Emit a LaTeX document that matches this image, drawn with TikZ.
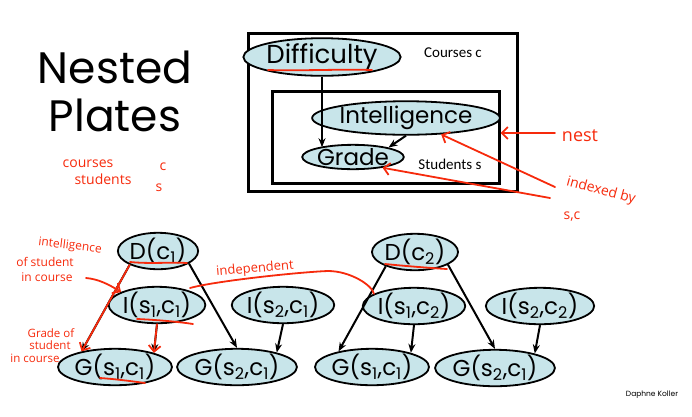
\documentclass[tikz,border=0pt]{standalone}
\usepackage{fontspec}
\setmainfont{Poppins}
\newfontfamily\calib{Carlito}
\newfontfamily\hand{Open Sans}
\usetikzlibrary{arrows.meta,shapes.geometric}
\definecolor{varfill}{RGB}{200,229,234}
\definecolor{ink}{RGB}{246,42,12}
\newcommand\lo[1]{\textsubscript{#1}}
\tikzset{
  var/.style={ellipse, draw=black, line width=1.8pt, fill=varfill, inner sep=0pt,
    minimum width=92pt, minimum height=31pt, font=\fontsize{23}{23}\selectfont},
  dvar/.style={var, minimum width=77pt, minimum height=26pt},
  edge/.style={line width=2pt, -{Stealth[length=9pt,width=7pt]}},
  plate/.style={draw=black, line width=3pt, inner sep=0pt},
  platelabel/.style={font=\calib\fontsize{15}{15}\selectfont},
  note/.style={text=ink, inner sep=0pt, font=\hand\fontsize{12}{12}\selectfont},
  redline/.style={draw=ink, line width=1.8pt, line cap=round, line join=round},
  redarrow/.style={redline, -{Straight Barb[length=6pt,width=12pt]}}
}
\begin{document}
\begin{tikzpicture}[x=1pt,y=-1pt]
\useasboundingbox (0,0) rectangle (692,416);

% title
\node[font=\fontsize{44}{44}\selectfont, anchor=base] (title1) at (115,83) {Nested};
\node[font=\fontsize{44}{44}\selectfont, anchor=base] (title2) at (115,131) {Plates};
\node[note, font=\hand\fontsize{14}{14}\selectfont] (ncourses) at (88,164) {courses};
\node[note, font=\hand\fontsize{14}{14}\selectfont] (nc) at (163,167) {c};
\node[note, font=\hand\fontsize{14}{14}\selectfont] (nstudents) at (103,179) {students};
\node[note, font=\hand\fontsize{14}{14}\selectfont] (ns) at (159,188) {s};

% plate model
\node[plate, minimum width=269pt, minimum height=158pt] (courses) at (382.5,112) {};
\node[plate, minimum width=227pt, minimum height=92pt] (students) at (385.5,137) {};
\node[platelabel] (clabel) at (453,53) {Courses c};
\node[platelabel] (slabel) at (450,164) {Students s};
\node[var, minimum width=123pt, minimum height=25pt, font=\fontsize{26}{26}\selectfont] (diff) at (322,57) {Difficulty};
\node[var, minimum width=152pt, minimum height=23pt, font=\fontsize{23}{23}\selectfont] (intel) at (406,118) {Intelligence};
\node[var, minimum width=93pt, minimum height=24pt, font=\fontsize{23}{23}\selectfont] (grade) at (353,157) {Grade};
\draw[edge] (diff.south) -- (diff.south |- grade.164);
\draw[edge] (intel.south) -- (grade.15);

% annotations on the plate model
\draw[redline] (268,70) .. controls (300,71) and (340,69) .. (372,70);
\coordinate (nestfrom) at (555,133);
\draw[redarrow] (nestfrom) -- (nestfrom -| students.east);
\node[note, font=\hand\fontsize{18}{18}\selectfont] (nnest) at (580,136) {nest};
\coordinate (idxA) at (555,187);
\coordinate (idxB) at (550,198);
\draw[redarrow] (idxA) -- (intel.-25);
\draw[redarrow] (idxB) -- (grade.-20);
\node[note, font=\hand\fontsize{14}{14}\selectfont, rotate=-15] (nidx) at (601,191) {indexed by};
\node[note, font=\hand\fontsize{14}{14}\selectfont] (nsc) at (572,217) {s,c};

% unrolled network
\node[dvar] (dc1) at (158,251) {D(c\lo{1})};
\node[var] (is11) at (157,305) {I(s\lo{1},c\lo{1})};
\node[var] (is21) at (283,305) {I(s\lo{2},c\lo{1})};
\node[var] (gs11) at (115,367) {G(s\lo{1},c\lo{1})};
\node[var] (gs21) at (237,367) {G(s\lo{2},c\lo{1})};
\node[dvar] (dc2) at (415,252) {D(c\lo{2})};
\node[var] (is12) at (414,306) {I(s\lo{1},c\lo{2})};
\node[var] (is22) at (540,306) {I(s\lo{2},c\lo{2})};
\node[var] (gs11b) at (372,367) {G(s\lo{1},c\lo{1})};
\node[var] (gs21b) at (495,368) {G(s\lo{2},c\lo{1})};

\draw[edge] (dc1.206) -- (gs11.155);
\draw[edge] (dc1.-22) -- (gs21.north);
\draw[edge] (is11.south) -- (gs11.20);
\draw[edge] (is21.south) -- (gs21.20);
\draw[edge] (dc2.206) -- (gs11b.155);
\draw[edge] (dc2.-21) -- (gs21b.north);
\draw[edge] (is12.south) -- (gs11b.20);
\draw[edge] (is22.south) -- (gs21b.20);

% annotations on the unrolled network
\draw[redarrow] (dc1.206) -- (gs11.155);
\draw[redarrow] (is11.south) -- (gs11.20);
\draw[redline] (130,262) .. controls (150,264) and (170,262) .. (187,263);
\draw[redline] (137,319) .. controls (160,320) and (180,322) .. (193,324);
\draw[redline] (100,378) .. controls (115,379) and (130,381) .. (145,383);
\draw[redline] (385,264) .. controls (405,266) and (430,268) .. (447,269);
\coordinate (incourse) at (86,278);
\draw[redarrow] (incourse) .. controls (98,279) and (108,284) .. (is11.160);
\coordinate (indepfrom) at (190,288);
\draw[redline] (indepfrom) .. controls (215,281) and (300,272) .. (328,271)
  .. controls (350,271) and (372,285) .. (is12.163);
\node[note, font=\hand\fontsize{13}{13}\selectfont, rotate=5] (nindep) at (255,269) {independent};
\node[note, rotate=-7] (nint1) at (70,246) {intelligence};
\node[note] (nint2) at (45,262) {of student};
\node[note] (nint3) at (47,277) {in course};
\node[note, font=\hand\fontsize{11.5}{11.5}\selectfont] (ngr1) at (51,333) {Grade of};
\node[note, font=\hand\fontsize{11.5}{11.5}\selectfont] (ngr2) at (50,345) {student};
\node[note, font=\hand\fontsize{11.5}{11.5}\selectfont] (ngr3) at (35,358) {in course};

\node[font=\fontsize{7.5}{7.5}\selectfont] (author) at (652,395) {Daphne Koller};
\end{tikzpicture}
\end{document}
